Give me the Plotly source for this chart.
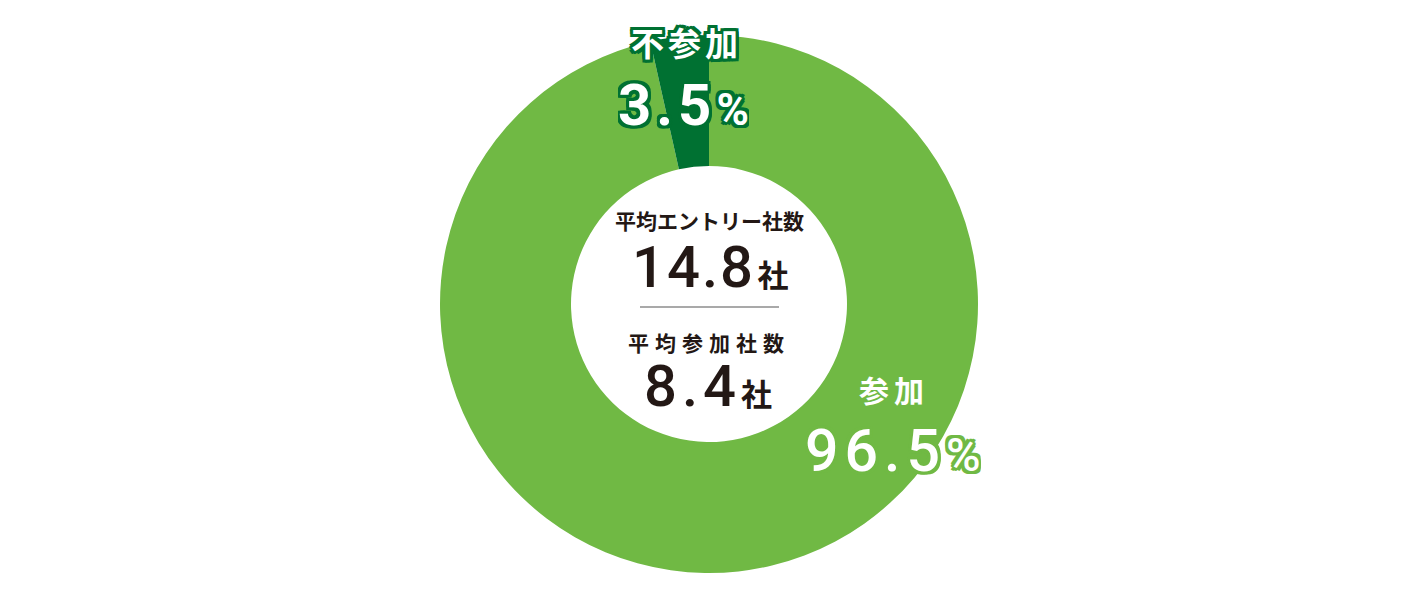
import plotly.graph_objects as go

# data
labels = ["参加", "不参加"]
values = [96.5, 3.5]
colors = ["#70b944", "#007132"]
avg_entry = 14.8
avg_join = 8.4

W, H = 1420, 600
JP = "Noto Sans CJK JP, Roboto, sans-serif"
NUM = "Roboto, Noto Sans CJK JP, sans-serif"


def outline(color, w=3):
    offs = [(-w, -w), (0, -w), (w, -w), (-w, 0), (w, 0), (-w, w), (0, w), (w, w),
            (-w, -1), (w, 1), (1, -w), (-1, w)]
    return ", ".join(f"{dx}px {dy}px 0 {color}" for dx, dy in offs)


def px(x, y):
    return x / W, 1 - y / H


def spaced(s, ls):
    return f"<span style='letter-spacing:{ls}px'>{s}</span>"


SHA = "<span style='font-size:31px;font-family:Noto Sans CJK JP;font-weight:700'>社</span>"

fig = go.Figure(go.Pie(
    labels=labels,
    values=values,
    marker=dict(colors=colors, line=dict(width=0)),
    hole=0.513,
    sort=False,
    direction="clockwise",
    rotation=0,
    textinfo="none",
    hoverinfo="skip",
    domain=dict(x=[440 / W, 978 / W], y=[1 - 573 / H, 1 - 35 / H]),
))

annos = []


def add(x, y, text, size, family, color="#231815", shadow=None, weight=None, height=None):
    ax, ay = px(x, y)
    f = dict(size=size, family=family, color=color)
    if shadow:
        f["shadow"] = shadow
    if weight:
        f["weight"] = weight
    a = dict(x=ax, y=ay, xref="paper", yref="paper", text=text,
             showarrow=False, xanchor="center", yanchor="middle", font=f)
    if height:
        a["height"] = height
    annos.append(a)


# slice labels
add(686, 42, spaced(labels[1], 4), 33, JP, "white", outline(colors[1]), 700)
add(683, 105, spaced(f"{values[1]:.1f}", 5) + "<span style='font-size:44px'>%</span>",
    58, NUM, "white", outline(colors[1]), 700, 52)
add(894, 389, spaced(labels[0], 5), 30, JP, "white", weight=700)
add(893, 450, spaced(f"{values[0]:.1f}", 6) + "<span style='font-size:47px'>%</span>",
    59, NUM, "white", outline(colors[0]), 500, 52)

# centre stats
add(709, 220, "平均エントリー社数", 21, JP, weight=700)
add(710, 267, spaced(f"{avg_entry:.1f}", 2) + "<span style='font-size:10px'> </span>" + SHA,
    58, NUM, weight=500, height=46)
add(709, 342, spaced("平均参加社数", 6), 21, JP, weight=700)
add(708, 386, spaced(f"{avg_join:.1f}", 5) + SHA, 58, NUM, weight=500, height=46)

fig.update_layout(
    width=W, height=H,
    margin=dict(l=0, r=0, t=0, b=0),
    paper_bgcolor="white",
    plot_bgcolor="white",
    showlegend=False,
    annotations=annos,
    shapes=[dict(type="line", xref="paper", yref="paper",
                 x0=640 / W, x1=779 / W, y0=1 - 307 / H, y1=1 - 307 / H,
                 line=dict(color="#8c8c8c", width=1.5))],
)

fig.write_html("out.html", config={"displayModeBar": False},
               post_script="document.body.style.margin='0';")
